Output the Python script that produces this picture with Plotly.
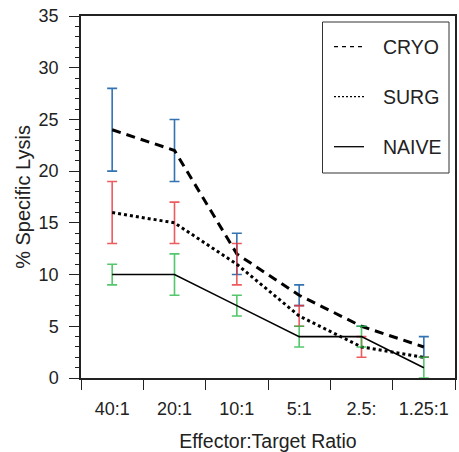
import plotly.graph_objects as go

categories = ["40:1", "20:1", "10:1", "5:1", "2.5:", "1.25:1"]
cryo = [24, 22, 12, 8, 5, 3]
cryo_err = [4, 3, 2, 1, 0, 1]
surg = [16, 15, 11, 6, 3, 2]
surg_err = [3, 2, 2, 1, 1, 0]
naive = [10, 10, 7, 4, 4, 1]
naive_err = [1, 2, 1, 1, 1, 1]
legend_names = ["CRYO", "SURG", "NAIVE"]

FONT = "Liberation Sans, Arial, Helvetica, sans-serif"
fig = go.Figure()

series = [
    ("CRYO", cryo, cryo_err, "rgba(30,100,170,0.9)", "9px,6px", 3),
    ("SURG", surg, surg_err, "rgba(232,50,55,0.8)", "3px,3px", 3),
    ("NAIVE", naive, naive_err, "rgba(40,185,70,0.8)", "solid", 1.6),
]
for name, y, e, col, dash, w in series:
    fig.add_trace(go.Scatter(
        x=categories, y=y, mode="lines", name=name, showlegend=False,
        line=dict(color="black", width=w, dash=dash),
        error_y=dict(type="data", array=e, visible=True, color=col,
                     thickness=1.6, width=5),
    ))

# legend box drawn in paper coordinates (plot area: 374 x 362 px)
PW, PH = 374.0, 362.0
def px(v):
    return v / PW
def py(v):
    return 1 - v / PH

fig.add_shape(type="rect", xref="paper", yref="paper",
              x0=px(241.5), x1=px(368), y0=py(157), y1=py(6),
              line=dict(color="#333", width=1), fillcolor="white", layer="above")
legend_dash = ["4px,4px", "2px,2px", "solid"]
for i, (name, dash) in enumerate(zip(legend_names, legend_dash)):
    yy = py(30.7 + 50 * i)
    fig.add_shape(type="line", xref="paper", yref="paper",
                  x0=px(253), x1=px(283), y0=yy, y1=yy,
                  line=dict(color="black", width=1.3, dash=dash), layer="above")
    fig.add_annotation(xref="paper", yref="paper", x=px(300), y=yy,
                       xanchor="left", yanchor="middle", text=name, showarrow=False,
                       font=dict(size=19.5, family=FONT, color="#222"))

fig.update_layout(
    width=459, height=452,
    margin=dict(l=81, r=4, t=16, b=74),
    plot_bgcolor="white", paper_bgcolor="white",
    font=dict(family=FONT, size=18, color="#222"),
    showlegend=False,
    xaxis=dict(
        type="category", range=[-0.5, 5.5], tickson="boundaries",
        ticks="outside", ticklen=10, tickcolor="#222", automargin=False,
        showline=True, linecolor="#222", linewidth=1.5, mirror=True,
        showgrid=False, ticklabelstandoff=14,
        title=dict(text="Effector:Target Ratio", font=dict(size=19.5), standoff=17),
    ),
    yaxis=dict(
        range=[0, 35], dtick=5, tick0=0, automargin=False,
        ticks="outside", ticklen=10, tickcolor="#222",
        minor=dict(dtick=1, ticks="outside", ticklen=4, tickcolor="#222", showgrid=False),
        showline=True, linecolor="#222", linewidth=1.5, mirror=True,
        showgrid=False, zeroline=False, ticklabelstandoff=7,
        title=dict(text="% Specific Lysis", font=dict(size=20), standoff=3),
    ),
)

fig.write_html("out.html", config={"displayModeBar": False},
               post_script="document.body.style.margin='0';")
